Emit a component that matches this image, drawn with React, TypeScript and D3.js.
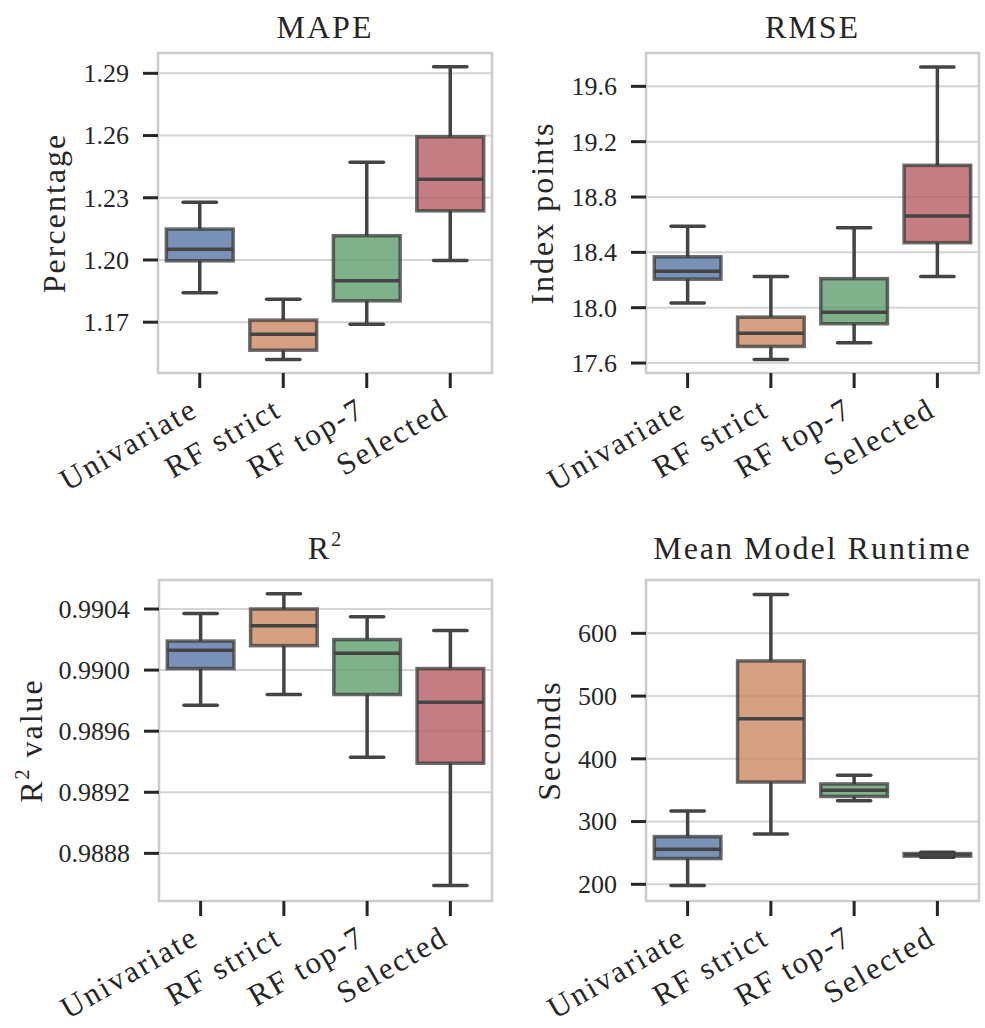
import React from "react";
import * as d3 from "d3";

// box stats per model: [lower whisker, q1, median, q3, upper whisker]
const models = ["Univariate", "RF strict", "RF top-7", "Selected"];
// seaborn deep palette, desaturated to 0.75 like sns.boxplot does
const colors = ["#5875a4", "#cc8963", "#5f9e6e", "#b55d60"];

const mapeStats = [
  [1.1842, 1.1996, 1.2052, 1.2149, 1.2278],
  [1.152, 1.1565, 1.1642, 1.171, 1.1811],
  [1.169, 1.1803, 1.19, 1.2117, 1.2471],
  [1.1997, 1.2237, 1.2389, 1.2594, 1.2932],
];
const mapeTicks = [1.17, 1.2, 1.23, 1.26, 1.29];

const rmseStats = [
  [18.034, 18.206, 18.264, 18.368, 18.588],
  [17.625, 17.72, 17.816, 17.932, 18.226],
  [17.747, 17.884, 17.968, 18.21, 18.578],
  [18.226, 18.47, 18.662, 19.029, 19.74],
];
const rmseTicks = [17.6, 18.0, 18.4, 18.8, 19.2, 19.6];

const r2Stats = [
  [0.98977, 0.99001, 0.99013, 0.99019, 0.99037],
  [0.98984, 0.99016, 0.99029, 0.9904, 0.9905],
  [0.98943, 0.98984, 0.99011, 0.9902, 0.99035],
  [0.98859, 0.98939, 0.98979, 0.99001, 0.99026],
];
const r2Ticks = [0.9888, 0.9892, 0.9896, 0.99, 0.9904];

const runtimeStats = [
  [198, 241, 256, 276, 317],
  [280, 363, 464, 556, 662],
  [333, 340, 350, 360, 374],
  [243, 245, 247, 249, 251],
];
const runtimeTicks = [200, 300, 400, 500, 600];

const FONT = "'Liberation Serif', 'DejaVu Serif', serif";
const INK = "#262626";
const LINE = "#444";

type PanelProps = {
  x0: number;
  y0: number;
  w: number;
  h: number;
  title: React.ReactNode;
  titleY: number;
  ylabel: React.ReactNode;
  ylabelX: number;
  stats: number[][];
  ticks: number[];
  domain: [number, number];
  fmt: (v: number) => string;
};

const Panel = ({ x0, y0, w, h, title, titleY, ylabel, ylabelX, stats, ticks, domain, fmt }: PanelProps) => {
  const x = d3.scaleBand().domain(models).range([0, w]);
  const y = d3.scaleLinear().domain(domain).range([h, 0]);
  const bw = x.bandwidth() * 0.8;
  return (
    <g transform={`translate(${x0},${y0})`}>
      {ticks.map((t) => (
        <line key={t} x1={0} x2={w} y1={y(t)} y2={y(t)} stroke="#d4d4d4" strokeWidth={2} />
      ))}
      {stats.map((s, i) => {
        const cx = x(models[i])! + x.bandwidth() / 2;
        const [lo, q1, med, q3, hi] = s;
        return (
          <g key={i}>
            <line x1={cx} x2={cx} y1={y(q3)} y2={y(hi)} stroke={LINE} strokeWidth={3.5} />
            <line x1={cx} x2={cx} y1={y(q1)} y2={y(lo)} stroke={LINE} strokeWidth={3.5} />
            <line x1={cx - bw / 4} x2={cx + bw / 4} y1={y(hi)} y2={y(hi)} stroke={LINE} strokeWidth={3.5} strokeLinecap="round" />
            <line x1={cx - bw / 4} x2={cx + bw / 4} y1={y(lo)} y2={y(lo)} stroke={LINE} strokeWidth={3.5} strokeLinecap="round" />
            <rect
              x={cx - bw / 2}
              y={y(q3)}
              width={bw}
              height={y(q1) - y(q3)}
              fill={colors[i]}
              fillOpacity={0.8}
              stroke="#3a3a3a"
              strokeOpacity={0.75}
              strokeWidth={3.5}
            />
            <line x1={cx - bw / 2} x2={cx + bw / 2} y1={y(med)} y2={y(med)} stroke={LINE} strokeWidth={3.5} />
          </g>
        );
      })}
      <rect x={0} y={0} width={w} height={h} fill="none" stroke="#cccccc" strokeWidth={2.5} />
      {ticks.map((t) => (
        <g key={t}>
          <line x1={-15} x2={0} y1={y(t)} y2={y(t)} stroke={INK} strokeWidth={3} />
          <text x={-29} y={y(t)} dy="0.34em" textAnchor="end" fontSize={26} fill={INK}>
            {fmt(t)}
          </text>
        </g>
      ))}
      {models.map((m) => {
        const cx = x(m)! + x.bandwidth() / 2;
        return (
          <g key={m}>
            <line x1={cx} x2={cx} y1={h} y2={h + 15} stroke={INK} strokeWidth={3} />
            <text
              transform={`translate(${cx},${h + 42}) rotate(-30)`}
              textAnchor="end"
              fontSize={31}
              letterSpacing={2.2}
              fill={INK}
            >
              {m}
            </text>
          </g>
        );
      })}
      <text x={w / 2} y={titleY} textAnchor="middle" fontSize={32} letterSpacing={2} fill={INK}>
        {title}
      </text>
      <text
        transform={`translate(${ylabelX},${h / 2}) rotate(-90)`}
        textAnchor="middle"
        fontSize={32}
        letterSpacing={2}
        fill={INK}
      >
        {ylabel}
      </text>
    </g>
  );
};

const App = () => {
  return (
    <svg
      width={985}
      height={1028}
      style={{ position: "absolute", left: 0, top: 0, background: "#fff" }}
      fontFamily={FONT}
    >
      <Panel
        x0={158} y0={53} w={334} h={320}
        title="MAPE" titleY={-15} ylabel="Percentage" ylabelX={-93}
        stats={mapeStats} ticks={mapeTicks} domain={[1.1455, 1.2998]}
        fmt={d3.format(".2f")}
      />
      <Panel
        x0={646} y0={53} w={333} h={320}
        title="RMSE" titleY={-15} ylabel="Index points" ylabelX={-93}
        stats={rmseStats} ticks={rmseTicks} domain={[17.528, 19.841]}
        fmt={d3.format(".1f")}
      />
      <Panel
        x0={159} y0={580} w={333} h={321}
        title={<>R<tspan fontSize={20} dy={-13}>2</tspan></>}
        titleY={-21}
        ylabel={<>R<tspan fontSize={20} dy={-13}>2</tspan><tspan dy={13}> value</tspan></>}
        ylabelX={-117}
        stats={r2Stats} ticks={r2Ticks} domain={[0.988488, 0.99059]}
        fmt={d3.format(".4f")}
      />
      <Panel
        x0={646} y0={580} w={333} h={321}
        title="Mean Model Runtime" titleY={-21} ylabel="Seconds" ylabelX={-86}
        stats={runtimeStats} ticks={runtimeTicks} domain={[173.4, 685]}
        fmt={d3.format("d")}
      />
    </svg>
  );
};

export default App;
